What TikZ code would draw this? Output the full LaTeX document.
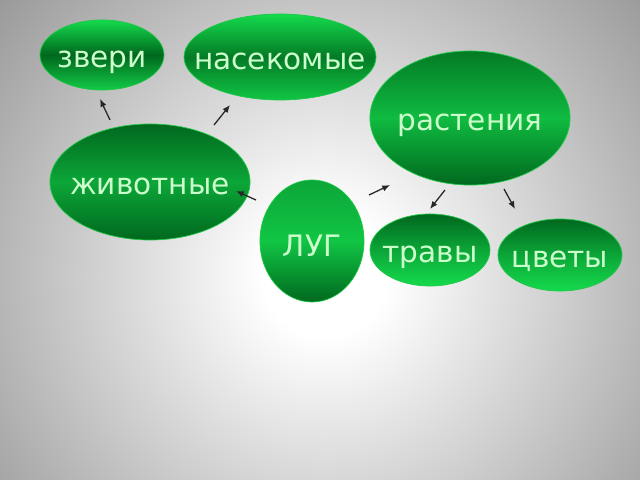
\documentclass[tikz,border=0pt]{standalone}
\usepackage{fontspec}
\usepackage{tikz}
\usetikzlibrary{shapes.geometric,arrows.meta}
\newfontfamily\bubblefont{DejaVu Sans}
\definecolor{hi}{RGB}{20,218,76}
\definecolor{mid}{RGB}{12,166,56}
\definecolor{lo}{RGB}{0,104,30}
\definecolor{rimgreen}{RGB}{30,200,70}
\definecolor{leafgreen}{RGB}{205,255,205}
\definecolor{bggray}{RGB}{150,150,150}
\pgfdeclareradialshading{meadowglow}{\pgfpoint{0bp}{0bp}}{color(0bp)=(white); color(3.5bp)=(white); color(25bp)=(bggray); color(50bp)=(bggray)}
\def\blobtext#1{\makebox[0pt]{\raisebox{-3pt}[1ex][0pt]{#1}}}
\tikzset{
	blob/.style n args={3}{shape=ellipse, draw=rimgreen, line width=0.5pt, inner sep=0pt,
		top color=#1, bottom color=#3, middle color=#2, text=leafgreen,
		font=\bubblefont\fontsize{21}{25}\selectfont},
	link/.style={-{Latex[length=5.5pt,width=4.5pt]}, line width=0.9pt, black!85}
}

\begin{document}
\begin{tikzpicture}[x=0.025cm, y=0.025cm]
			%%%%% START %%%%%
			\useasboundingbox (0, 0) rectangle (640, 480);
			\begin{scope}
				\clip (0, 0) rectangle (640, 480);
				\shade[shading=meadowglow] (325, 205) circle [radius=11cm];
			\end{scope}
			
			\node[blob={hi}{lo}{hi!70!mid}, minimum width=3.1cm, minimum height=1.75cm] (zveri) at (102, 425) {\blobtext{звери}};
			\node[blob={hi}{lo!70!mid}{hi!60!mid}, minimum width=4.8cm, minimum height=2.15cm] (nasek) at (280, 423) {\blobtext{насекомые}};
			\node[blob={lo!70!mid}{mid!60!hi}{lo}, minimum width=5cm, minimum height=3.35cm] (rast) at (470, 362) {\blobtext{растения}};
			\node[blob={lo}{mid}{lo}, minimum width=5cm, minimum height=2.9cm] (zhiv) at (150, 298) {\blobtext{животные}};
			\node[blob={mid}{hi!60!mid}{lo}, minimum width=2.6cm, minimum height=3.05cm] (lug) at (312, 239) {\blobtext{\raisebox{-2pt}{ЛУГ}}};
			\node[blob={lo}{mid}{hi}, minimum width=3cm, minimum height=1.8cm] (travy) at (430, 230) {\blobtext{травы}};
			\node[blob={lo}{mid}{hi}, minimum width=3.1cm, minimum height=1.8cm] (tsvety) at (560, 225) {\blobtext{цветы}};
			
			% short arrows between the ovals
			\coordinate (zv-from) at (110, 360);   \coordinate (zv-to) at (100, 381);
			\coordinate (ns-from) at (214, 355);   \coordinate (ns-to) at (230, 375);
			\coordinate (zh-from) at (256, 280);   \coordinate (zh-to) at (236, 289);
			\coordinate (rs-from) at (369, 285);   \coordinate (rs-to) at (390, 295);
			\coordinate (tr-from) at (445, 290);   \coordinate (tr-to) at (430, 271);
			\coordinate (cv-from) at (504, 291);   \coordinate (cv-to) at (515, 271);
			\foreach \a in {zv, ns, zh, rs, tr, cv}
				\draw[link] (\a-from) -- (\a-to);
			%%%%% END %%%%%
\end{tikzpicture}
\end{document}
